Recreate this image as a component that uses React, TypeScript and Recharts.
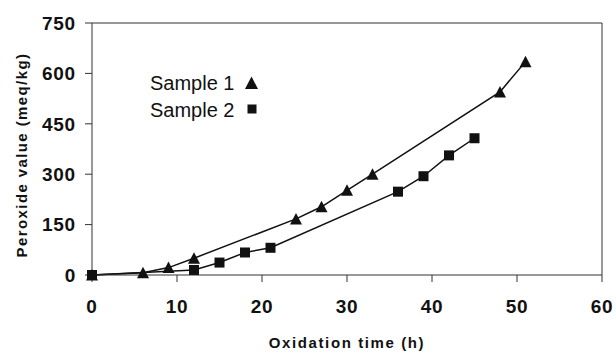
import { Line, LineChart, ReferenceLine, XAxis, YAxis } from "recharts"

const hours1 = [0, 6, 9, 12, 24, 27, 30, 33, 48, 51]
const sample1 = [0, 7, 22, 50, 167, 203, 252, 300, 545, 635]
const hours2 = [0, 12, 15, 18, 21, 36, 39, 42, 45]
const sample2 = [0, 15, 37, 67, 81, 248, 294, 356, 407]
const xTicks = [0, 10, 20, 30, 40, 50, 60]
const yTicks = [0, 150, 300, 450, 600, 750]

const font = "'Liberation Sans', Arial, sans-serif"
const ink = "#111"

const data1 = hours1.map((x, i) => ({ x, y: sample1[i] }))
const data2 = hours2.map((x, i) => ({ x, y: sample2[i] }))

const tickStyle = { fill: ink, fontSize: 19, fontWeight: 700, fontFamily: font, letterSpacing: 0.8 }

function Triangle({ cx, cy, size = 12 }: { cx: number; cy: number; size?: number }) {
  const h = size / 2
  return <path d={`M${cx},${cy - h} L${cx + h},${cy + h - 0.5} L${cx - h},${cy + h - 0.5} Z`} fill={ink} />
}

function Square({ cx, cy, size = 10 }: { cx: number; cy: number; size?: number }) {
  return <rect x={cx - size / 2} y={cy - size / 2} width={size} height={size} fill={ink} />
}

function YLabel() {
  return (
    <text
      x={27}
      y={155}
      transform="rotate(-90 27 155)"
      textAnchor="middle"
      fontFamily={font}
      fontSize={15}
      fontWeight={700}
      letterSpacing={1.4}
      fill={ink}
    >
      Peroxide value (meq/kg)
    </text>
  )
}

export default function App() {
  return (
    <div style={{ position: "absolute", left: 0, top: 0, width: 616, height: 352, background: "#fff" }}>
      <LineChart width={616} height={352} margin={{ top: 23, right: 14, left: 30, bottom: 0 }}>
        <XAxis
          type="number"
          dataKey="x"
          domain={[0, 60]}
          ticks={xTicks}
          height={77}
          stroke="#333"
          tickSize={7}
          tickMargin={18}
          tick={tickStyle}
          label={{
            value: "Oxidation time (h)",
            position: "insideBottom",
            offset: 4,
            fontSize: 15,
            fontWeight: 700,
            fontFamily: font,
            letterSpacing: 1.6,
            fill: ink,
          }}
        />
        <YAxis
          type="number"
          dataKey="y"
          domain={[0, 750]}
          ticks={yTicks}
          width={62}
          stroke="#333"
          tickSize={7}
          tickMargin={9}
          tick={tickStyle}
          label={<YLabel />}
        />
        <ReferenceLine y={750} stroke="#333" />
        <ReferenceLine x={60} stroke="#333" />
        <Line
          data={data1}
          dataKey="y"
          type="linear"
          stroke={ink}
          strokeWidth={1.5}
          isAnimationActive={false}
          dot={(p: any) => <Triangle key={`t${p.index}`} cx={p.cx} cy={p.cy} />}
        />
        <Line
          data={data2}
          dataKey="y"
          type="linear"
          stroke={ink}
          strokeWidth={1.5}
          isAnimationActive={false}
          dot={(p: any) => <Square key={`s${p.index}`} cx={p.cx} cy={p.cy} />}
        />
      </LineChart>
      <svg width={616} height={352} style={{ position: "absolute", left: 0, top: 0, pointerEvents: "none" }}>
        <text x={150} y={90} fontFamily={font} fontSize={20} fill={ink}>
          Sample 1
        </text>
        <Triangle cx={251.5} cy={83} size={13} />
        <text x={150} y={117} fontFamily={font} fontSize={20} fill={ink}>
          Sample 2
        </text>
        <Square cx={252} cy={109} size={9} />
      </svg>
    </div>
  )
}
